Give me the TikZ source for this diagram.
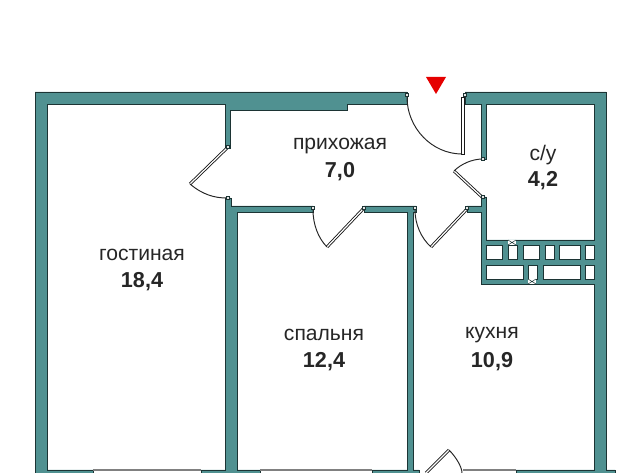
\documentclass[tikz,border=0pt]{standalone}
\usepackage{fontspec}
\setmainfont{Liberation Sans}
\usepackage{xcolor}
\usetikzlibrary{arrows,positioning}
\definecolor{walltone}{RGB}{80,145,145}
\definecolor{wallline}{RGB}{28,52,52}

\begin{document}
\begin{tikzpicture}[
            x = 0.02cm,
            y = -0.02cm,
            wall/.style = {draw = wallline, line width = 0.5pt, fill = walltone, line join = miter},
            shafthole/.style = {draw = wallline, line width = 0.5pt, fill = white},
            doorleaf/.style = {draw = black!90, line width = 0.5pt, double = white, double distance = 0.7pt},
            doorslab/.style = {draw = black!90, line width = 0.5pt, fill = white},
            doorarc/.style = {draw = black!85, line width = 0.55pt},
            hingebox/.style = {draw = wallline, line width = 0.35pt, fill = black!10},
            glazing/.style = {draw = gray, line width = 0.6pt},
            roomname/.style = {font = \fontsize{12}{14}\selectfont, text = black!85},
            roomarea/.style = {font = \fontsize{12.3}{14}\selectfont\bfseries, text = black!85}
        ]

        \clip (0,0) rectangle (640,473);

        % Walls
        \path[wall] (407,92) -- (35,92) -- (35,480) -- (93,480) -- (93,470) -- (47,470) -- (47,104) -- (225,104) -- (225,148) -- (230,148) -- (230,110) -- (347,110) -- (347,104) -- (407,104) -- cycle;
        \path[wall] (225,198) -- (231,198) -- (231,206) -- (313,206) -- (313,212) -- (237,212) -- (237,470) -- (260,470) -- (260,480) -- (201,480) -- (201,470) -- (225,470) -- cycle;
        \path[wall] (364,206) -- (416,206) -- (416,212) -- (413,212) -- (413,470) -- (419,470) -- (419,480) -- (372,480) -- (372,470) -- (407,470) -- (407,212) -- (364,212) -- cycle;
        \path[wall] (465,92) -- (606,92) -- (606,470) -- (615,470) -- (615,480) -- (516,480) -- (516,470) -- (594,470) -- (594,284) -- (481,284) -- (481,212) -- (467,212) -- (467,206) -- (481,206) -- (481,197) -- (486,197) -- (486,240) -- (594,240) -- (594,104) -- (486,104) -- (486,159) -- (481,159) -- (481,104) -- (465,104) -- cycle;

        % Shaft
        \foreach \xa/\xb in {486/502, 508/517, 523/539, 545/554, 559/580, 585/594}
            \path[shafthole] (\xa,245) rectangle (\xb,259.5);
        \foreach \xa/\xb in {486/523, 528/537, 543/580, 585/594}
            \path[shafthole] (\xa,265) rectangle (\xb,279);
        \foreach \xa/\ya in {512/242.5, 532/281.5} {
            \fill[white] (\xa-4,\ya-2.5) rectangle (\xa+4,\ya+2.5);
            \draw[draw = wallline, line width = 0.3pt] (\xa-4,\ya-2.5) -- (\xa+4,\ya+2.5) (\xa-4,\ya+2.5) -- (\xa+4,\ya-2.5);
        }

        % Windows
        \draw[glazing] (93,470) -- (201,470);
        \draw[glazing] (260,470) -- (372,470);
        \draw[glazing] (463,470) -- (516,470);

        % Doors
        \draw[doorleaf] (227,148) -- (190,184);
        \draw[doorarc] (190,184) .. controls (203,195) and (215,198) .. (227,198);
        \draw[doorleaf] (364,208) -- (327,247);
        \draw[doorarc] (313,210) .. controls (313,224) and (318,238) .. (327,247);
        \draw[doorleaf] (467,209) -- (431,247);
        \draw[doorarc] (415,210) .. controls (415,224) and (421,238) .. (431,247);
        \path[doorslab] (461.5,97) rectangle (464.5,154);
        \draw[doorarc] (407,97) .. controls (407,128) and (432,154) .. (462,154);
        \draw[doorleaf] (482,197) -- (454,171);
        \draw[doorarc] (483,159) .. controls (472,159) and (461,164) .. (454,171);
        \draw[doorleaf] (426,473) -- (449,450);
        \draw[doorarc] (449,450) .. controls (456,457) and (462,467) .. (462,473);

        % Hinges
        \foreach \xa/\ya in {228/147, 228/198, 313/208, 364/208, 415/208, 407/95, 465/95, 483/159, 483/197, 467/208}
            \path[hingebox] (\xa-1.7,\ya-1.7) rectangle (\xa+1.7,\ya+1.7);

        % Entrance mark
        \fill[red!90!black] (426,77) -- (446,77) -- (436,94) -- cycle;

        % Rooms
        \node[roomname] (livingname) [at={(142,255)}] {гостиная};
        \node[roomarea] (livingarea) [at={(142,282)}] {18,4};
        \node[roomname] (hallname) [at={(340,146)}] {прихожая};
        \node[roomarea] (hallarea) [at={(340,172)}] {7,0};
        \node[roomname] (bathname) [at={(543,155)}] {с/у};
        \node[roomarea] (batharea) [at={(543,181)}] {4,2};
        \node[roomname] (bedname) [at={(324,335)}] {спальня};
        \node[roomarea] (bedarea) [at={(324,362)}] {12,4};
        \node[roomname] (kitchenname) [at={(492,335)}] {кухня};
        \node[roomarea] (kitchenarea) [at={(492,362)}] {10,9};
      \end{tikzpicture}
\end{document}
